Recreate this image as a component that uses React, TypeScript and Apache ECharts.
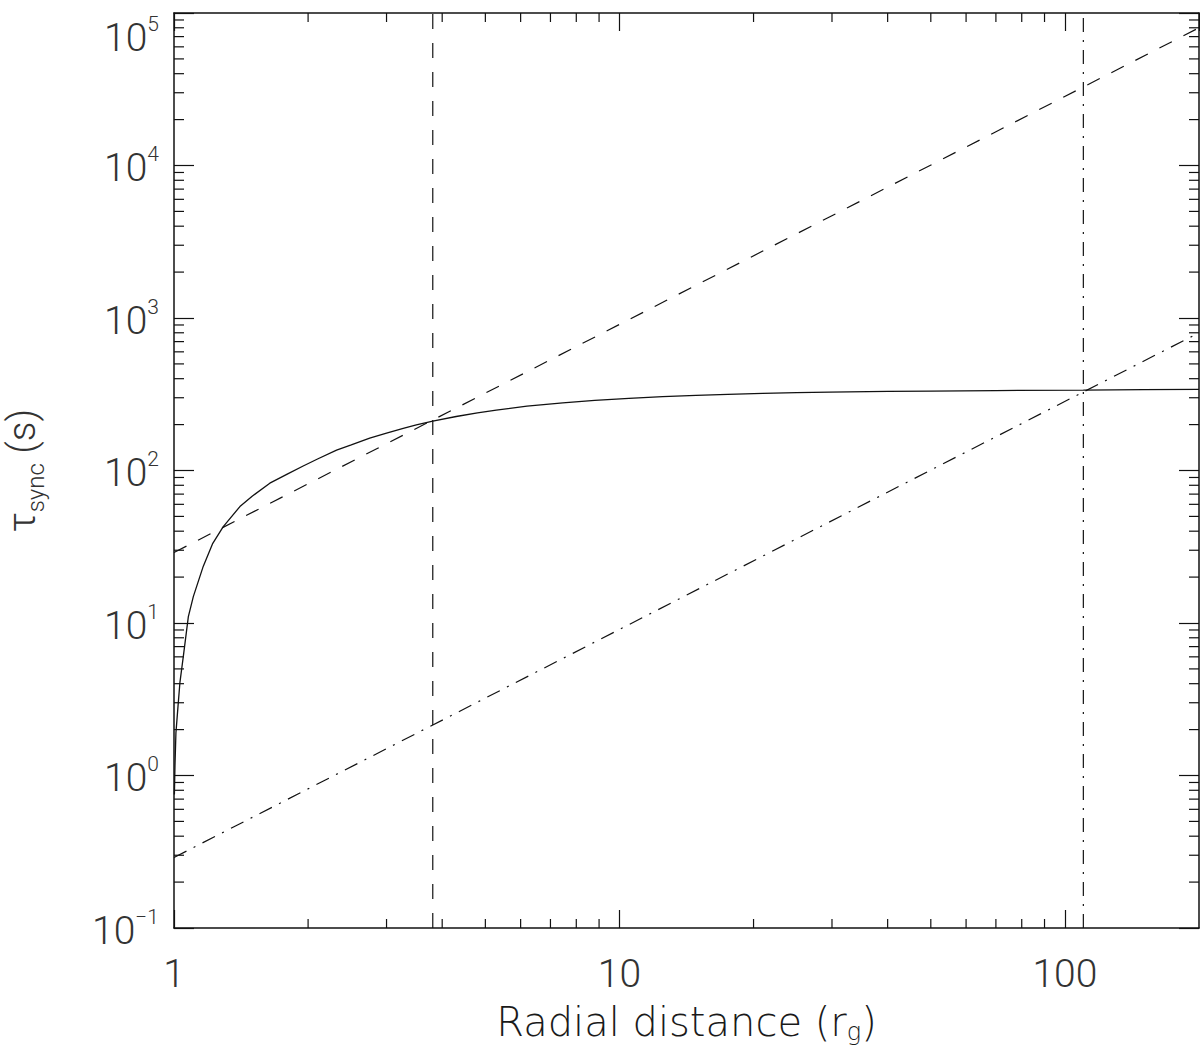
import React, { useEffect, useRef } from "react";
import * as echarts from "echarts";

// Axis ranges
const X_MIN = 1;
const X_MAX = 200;
const Y_MIN = 0.1;
const Y_MAX = 1e5;

// Solid curve: tau_sync vs radial distance
const solidR = [1.002, 1.005, 1.01, 1.021, 1.031, 1.049, 1.077, 1.105, 1.163, 1.22, 1.29, 1.406, 1.5, 1.641, 1.8, 1.95, 2.1, 2.317, 2.5, 2.75, 3.0, 3.27, 3.5, 3.81, 4.3, 4.8, 5.29, 6.2, 7.46, 8.8, 10.5, 12.5, 14.86, 17.5, 20.96, 25, 29.6, 40, 50, 70, 110, 150, 200];
const solidTau = [0.75, 1.15, 1.9, 2.85, 4.06, 6.0, 11.0, 14.9, 23.5, 33, 42.9, 58, 68, 82.6, 95, 107, 119, 136, 147, 163, 176, 189, 199, 211, 226, 239, 249, 264, 278, 288, 297, 305, 311, 316, 320, 324, 327, 330, 332, 334.5, 337, 339, 340];

// Dashed power law (straight on log-log)
const dashedR = [1, 200];
const dashedTau = [29, 80000];

// Dash-dot power law
const dashDotR = [1, 200];
const dashDotTau = [0.29, 800];

// Vertical marker lines
const vDashedR = 3.81;
const vDashDotR = 110;

// Tick structure
const MINOR_MULTS = [2, 3, 4, 5, 6, 7, 8, 9];
const X_DECADES = [1, 10];
const Y_DECADES = [0.1, 1, 10, 100, 1000, 10000];

const TXT = "#333333";
const TITLE_TXT = "#1a1a1a";
const LINE = "#111111";
const NUM_FONT = "Roboto";
const TITLE_FONT = "DejaVu Sans";

function App() {
  const ref = useRef<HTMLDivElement>(null);
  useEffect(() => {
    if (!ref.current) return;
    const chart = echarts.init(ref.current, null, { renderer: "svg" });

    const xMinor = X_DECADES.flatMap((d) => MINOR_MULTS.map((m) => m * d)).filter((v) => v < X_MAX);
    const yMinor = Y_DECADES.flatMap((d) => MINOR_MULTS.map((m) => +(m * d).toPrecision(3)));

    const tickStyle = { stroke: LINE, lineWidth: 1.2 };

    const xTickSeries = {
      type: "custom",
      silent: true,
      clip: false,
      z: 5,
      data: xMinor.map((v) => [v, Y_MIN]),
      encode: { x: 0, y: 1 },
      renderItem: (params: any, api: any) => {
        const v = api.value(0);
        const b = api.coord([v, Y_MIN]);
        const t = api.coord([v, Y_MAX]);
        return {
          type: "group",
          children: [
            { type: "line", shape: { x1: b[0], y1: b[1], x2: b[0], y2: b[1] - 9 }, style: tickStyle },
            { type: "line", shape: { x1: t[0], y1: t[1], x2: t[0], y2: t[1] + 9 }, style: tickStyle },
          ],
        };
      },
    };

    const yTickSeries = {
      type: "custom",
      silent: true,
      clip: false,
      z: 5,
      data: yMinor.map((v) => [X_MIN, v]),
      encode: { x: 0, y: 1 },
      renderItem: (params: any, api: any) => {
        const v = api.value(1);
        const l = api.coord([X_MIN, v]);
        const r = api.coord([X_MAX, v]);
        return {
          type: "group",
          children: [
            { type: "line", shape: { x1: l[0], y1: l[1], x2: l[0] + 10, y2: l[1] }, style: tickStyle },
            { type: "line", shape: { x1: r[0], y1: r[1], x2: r[0] - 10, y2: r[1] }, style: tickStyle },
          ],
        };
      },
    };

    const axisLine = { show: true, onZero: false, lineStyle: { color: LINE, width: 1.5 } };
    const supLabel = (v: number) => {
      const e = Math.round(Math.log10(v));
      return `{b|10}{e|${e < 0 ? "\u2212" + -e : e}}`;
    };

    const option = {
      animation: false,
      backgroundColor: "#ffffff",
      grid: { left: 174, top: 13, width: 1025, height: 915, containLabel: false, outerBoundsMode: "none" },
      xAxis: [
        {
          type: "log",
          logBase: 10,
          min: X_MIN,
          max: X_MAX,
          position: "bottom",
          axisLine,
          axisTick: { show: true, inside: true, length: 18, lineStyle: { color: LINE, width: 1.2 } },
          splitLine: { show: false },
          minorTick: { show: false },
          axisLabel: {
            show: true,
            margin: 26,
            fontSize: 39,
            fontWeight: 300,
            color: TXT,
            fontFamily: NUM_FONT,
            showMaxLabel: false,
            formatter: (v: number) => String(Math.round(v)),
          },
          name: "Radial distance (r{sub|g})",
          nameLocation: "middle",
          nameGap: 71,
          nameTextStyle: {
            fontSize: 40,
            fontWeight: 200,
            color: TITLE_TXT,
            fontFamily: TITLE_FONT,
            rich: {
              sub: { fontSize: 24, fontWeight: 200, color: TITLE_TXT, fontFamily: TITLE_FONT, verticalAlign: "bottom", padding: [21, 0, 0, 0] },
            },
          },
        },
        {
          type: "log",
          logBase: 10,
          min: X_MIN,
          max: X_MAX,
          position: "top",
          axisLine,
          axisTick: { show: true, inside: true, length: 18, lineStyle: { color: LINE, width: 1.2 } },
          axisLabel: { show: false },
          splitLine: { show: false },
        },
      ],
      yAxis: [
        {
          type: "log",
          logBase: 10,
          min: Y_MIN,
          max: Y_MAX,
          splitNumber: 6,
          position: "left",
          axisLine,
          axisTick: { show: true, inside: true, length: 20, lineStyle: { color: LINE, width: 1.2 } },
          splitLine: { show: false },
          axisLabel: {
            show: true,
            margin: 15,
            color: TXT,
            fontFamily: NUM_FONT,
            fontWeight: 300,
            verticalAlignMaxLabel: "top",
            formatter: supLabel,
            rich: {
              b: { fontSize: 39, fontWeight: 300, color: TXT, fontFamily: NUM_FONT, verticalAlign: "top", padding: [5, 0, 0, 0] },
              e: { fontSize: 21, fontWeight: 300, color: TXT, fontFamily: NUM_FONT, verticalAlign: "top" },
            },
          },
          name: "{t|\u03c4}{sub|sync} {t|(s)}",
          nameLocation: "middle",
          nameGap: 126,
          nameRotate: 90,
          nameTextStyle: {
            fontSize: 39,
            fontWeight: 300,
            color: TXT,
            fontFamily: NUM_FONT,
            rich: {
              t: { fontSize: 39, fontWeight: 300, color: TXT, fontFamily: NUM_FONT, verticalAlign: "top" },
              sub: { fontSize: 24, fontWeight: 300, color: TXT, fontFamily: NUM_FONT, verticalAlign: "bottom", padding: [22, 0, 0, 0] },
            },
          },
        },
        {
          type: "log",
          logBase: 10,
          min: Y_MIN,
          max: Y_MAX,
          splitNumber: 6,
          position: "right",
          axisLine,
          axisTick: { show: true, inside: true, length: 20, lineStyle: { color: LINE, width: 1.2 } },
          axisLabel: { show: false },
          splitLine: { show: false },
        },
      ],
      series: [
        {
          type: "line",
          data: [[vDashedR, Y_MIN], [vDashedR, Y_MAX]],
          symbol: "none",
          lineStyle: { color: LINE, width: 1.2, type: [15, 14] },
          silent: true,
        },
        {
          type: "line",
          data: [[vDashDotR, Y_MIN], [vDashDotR, Y_MAX]],
          symbol: "none",
          lineStyle: { color: LINE, width: 1.2, type: [14, 8, 2, 8] },
          silent: true,
        },
        {
          type: "line",
          data: dashedR.map((r, i) => [r, dashedTau[i]]),
          symbol: "none",
          lineStyle: { color: LINE, width: 1.2, type: [14, 13] },
          silent: true,
        },
        {
          type: "line",
          data: dashDotR.map((r, i) => [r, dashDotTau[i]]),
          symbol: "none",
          lineStyle: { color: LINE, width: 1.2, type: [14, 8, 2, 8] },
          silent: true,
        },
        {
          type: "line",
          data: solidR.map((r, i) => [r, solidTau[i]]),
          symbol: "none",
          smooth: false,
          lineStyle: { color: LINE, width: 1.3 },
          silent: true,
        },
        xTickSeries,
        yTickSeries,
      ],
    };

    chart.setOption(option as any);
    return () => chart.dispose();
  }, []);

  return (
    <div
      ref={ref}
      style={{ position: "fixed", left: 0, top: 0, width: 1200, height: 1059, background: "#fff" }}
    />
  );
}

export default App;
